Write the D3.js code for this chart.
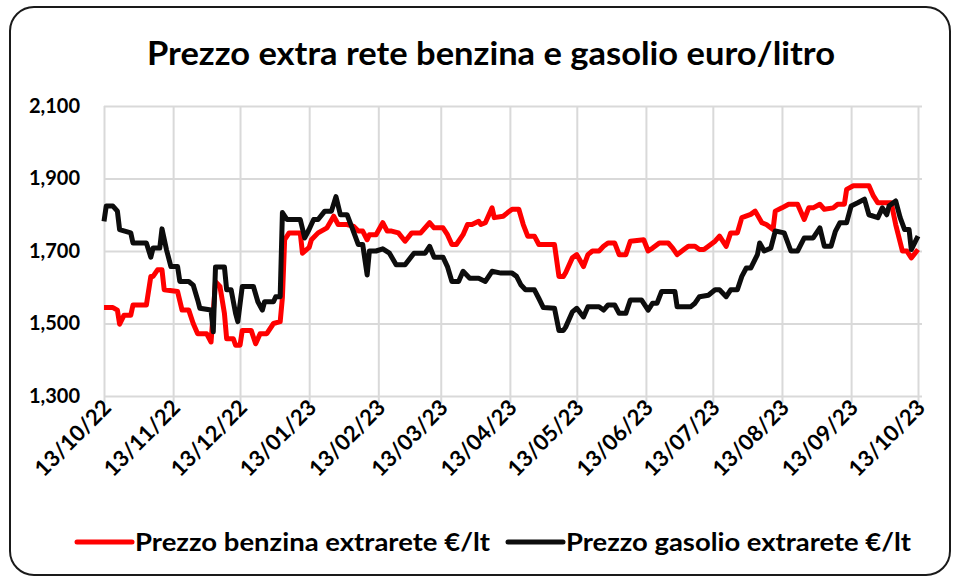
<!DOCTYPE html>
<html>
<head>
<meta charset="utf-8">
<script src="https://cdn.jsdelivr.net/npm/d3@7"></script>
<style>
    body { margin: 0; background: #fff; }
    text { font-family: Lato, "Open Sans", sans-serif; font-weight: bold; fill: #000; }
</style>
</head>
<body>
<div id="chart"></div>
<script>
// Prezzo benzina extrarete €/lt (date, value)
const benzina = [
    ["2022-10-13", 1.544], ["2022-10-17", 1.544], ["2022-10-19", 1.537], ["2022-10-20", 1.498],
    ["2022-10-22", 1.523], ["2022-10-25", 1.523], ["2022-10-26", 1.551], ["2022-11-01", 1.551],
    ["2022-11-03", 1.630], ["2022-11-04", 1.630], ["2022-11-06", 1.648], ["2022-11-08", 1.648],
    ["2022-11-09", 1.593], ["2022-11-15", 1.588], ["2022-11-17", 1.537], ["2022-11-20", 1.537],
    ["2022-11-22", 1.500], ["2022-11-24", 1.472], ["2022-11-28", 1.472], ["2022-11-30", 1.449],
    ["2022-12-02", 1.615], ["2022-12-04", 1.602], ["2022-12-06", 1.528], ["2022-12-07", 1.458],
    ["2022-12-10", 1.458], ["2022-12-11", 1.440], ["2022-12-13", 1.440], ["2022-12-14", 1.481],
    ["2022-12-18", 1.481], ["2022-12-20", 1.444], ["2022-12-22", 1.472], ["2022-12-25", 1.472],
    ["2022-12-28", 1.500], ["2022-12-31", 1.505], ["2023-01-01", 1.572], ["2023-01-02", 1.731],
    ["2023-01-04", 1.750], ["2023-01-09", 1.750], ["2023-01-10", 1.694], ["2023-01-13", 1.710],
    ["2023-01-14", 1.731], ["2023-01-17", 1.750], ["2023-01-21", 1.764], ["2023-01-24", 1.796],
    ["2023-01-26", 1.773], ["2023-01-30", 1.773], ["2023-02-02", 1.768], ["2023-02-04", 1.755],
    ["2023-02-06", 1.755], ["2023-02-08", 1.731], ["2023-02-09", 1.745], ["2023-02-12", 1.745],
    ["2023-02-15", 1.778], ["2023-02-17", 1.755], ["2023-02-19", 1.755], ["2023-02-22", 1.750],
    ["2023-02-25", 1.727], ["2023-02-28", 1.750], ["2023-03-04", 1.750], ["2023-03-08", 1.778],
    ["2023-03-10", 1.764], ["2023-03-14", 1.764], ["2023-03-16", 1.745], ["2023-03-18", 1.718],
    ["2023-03-20", 1.718], ["2023-03-23", 1.745], ["2023-03-25", 1.773], ["2023-03-27", 1.773],
    ["2023-03-30", 1.782], ["2023-03-31", 1.773], ["2023-04-02", 1.778], ["2023-04-05", 1.819],
    ["2023-04-06", 1.792], ["2023-04-10", 1.796], ["2023-04-12", 1.806], ["2023-04-14", 1.815],
    ["2023-04-17", 1.815], ["2023-04-19", 1.773], ["2023-04-21", 1.741], ["2023-04-24", 1.741],
    ["2023-04-26", 1.718], ["2023-05-03", 1.718], ["2023-05-05", 1.630], ["2023-05-07", 1.630],
    ["2023-05-08", 1.640], ["2023-05-11", 1.681], ["2023-05-13", 1.690], ["2023-05-16", 1.657],
    ["2023-05-18", 1.690], ["2023-05-20", 1.700], ["2023-05-23", 1.700], ["2023-05-25", 1.713],
    ["2023-05-27", 1.722], ["2023-05-30", 1.722], ["2023-06-01", 1.690], ["2023-06-04", 1.690],
    ["2023-06-06", 1.727], ["2023-06-12", 1.731], ["2023-06-14", 1.700], ["2023-06-16", 1.708],
    ["2023-06-19", 1.722], ["2023-06-23", 1.722], ["2023-06-25", 1.708], ["2023-06-27", 1.690],
    ["2023-06-30", 1.704], ["2023-07-02", 1.713], ["2023-07-05", 1.713], ["2023-07-07", 1.704],
    ["2023-07-09", 1.704], ["2023-07-11", 1.713], ["2023-07-14", 1.727], ["2023-07-16", 1.741],
    ["2023-07-19", 1.713], ["2023-07-21", 1.750], ["2023-07-24", 1.750], ["2023-07-26", 1.792],
    ["2023-07-30", 1.801], ["2023-08-01", 1.810], ["2023-08-04", 1.778], ["2023-08-06", 1.773],
    ["2023-08-09", 1.759], ["2023-08-10", 1.810], ["2023-08-13", 1.819], ["2023-08-16", 1.829],
    ["2023-08-20", 1.829], ["2023-08-23", 1.787], ["2023-08-25", 1.819], ["2023-08-27", 1.819],
    ["2023-08-30", 1.829], ["2023-09-01", 1.815], ["2023-09-05", 1.819], ["2023-09-07", 1.829],
    ["2023-09-10", 1.829], ["2023-09-11", 1.870], ["2023-09-14", 1.880], ["2023-09-21", 1.880],
    ["2023-09-23", 1.852], ["2023-09-25", 1.833], ["2023-10-01", 1.833], ["2023-10-03", 1.773],
    ["2023-10-06", 1.700], ["2023-10-08", 1.700], ["2023-10-10", 1.681], ["2023-10-13", 1.704]
];

// Prezzo gasolio extrarete €/lt (date, value)
const gasolio = [
    ["2022-10-13", 1.782], ["2022-10-14", 1.824], ["2022-10-17", 1.824], ["2022-10-19", 1.810],
    ["2022-10-20", 1.759], ["2022-10-25", 1.750], ["2022-10-26", 1.722], ["2022-11-01", 1.722],
    ["2022-11-03", 1.683], ["2022-11-04", 1.708], ["2022-11-07", 1.708], ["2022-11-08", 1.761],
    ["2022-11-10", 1.704], ["2022-11-12", 1.657], ["2022-11-15", 1.657], ["2022-11-16", 1.616],
    ["2022-11-20", 1.616], ["2022-11-22", 1.606], ["2022-11-24", 1.565], ["2022-11-25", 1.542],
    ["2022-11-30", 1.537], ["2022-12-01", 1.477], ["2022-12-02", 1.656], ["2022-12-06", 1.656],
    ["2022-12-07", 1.593], ["2022-12-09", 1.593], ["2022-12-11", 1.528], ["2022-12-12", 1.505],
    ["2022-12-14", 1.602], ["2022-12-19", 1.602], ["2022-12-21", 1.560], ["2022-12-23", 1.537],
    ["2022-12-24", 1.560], ["2022-12-28", 1.560], ["2022-12-29", 1.574], ["2022-12-31", 1.574],
    ["2023-01-01", 1.806], ["2023-01-03", 1.787], ["2023-01-09", 1.787], ["2023-01-11", 1.736],
    ["2023-01-13", 1.760], ["2023-01-15", 1.787], ["2023-01-17", 1.787], ["2023-01-20", 1.810],
    ["2023-01-23", 1.810], ["2023-01-25", 1.850], ["2023-01-27", 1.800], ["2023-01-30", 1.800],
    ["2023-02-01", 1.768], ["2023-02-04", 1.718], ["2023-02-06", 1.718], ["2023-02-08", 1.634],
    ["2023-02-09", 1.700], ["2023-02-12", 1.700], ["2023-02-15", 1.706], ["2023-02-18", 1.694],
    ["2023-02-21", 1.662], ["2023-02-25", 1.662], ["2023-03-01", 1.694], ["2023-03-06", 1.694],
    ["2023-03-08", 1.713], ["2023-03-10", 1.683], ["2023-03-14", 1.683], ["2023-03-16", 1.657],
    ["2023-03-18", 1.616], ["2023-03-21", 1.616], ["2023-03-23", 1.644], ["2023-03-26", 1.625],
    ["2023-03-30", 1.625], ["2023-04-02", 1.616], ["2023-04-05", 1.644], ["2023-04-09", 1.639],
    ["2023-04-14", 1.639], ["2023-04-16", 1.630], ["2023-04-18", 1.606], ["2023-04-20", 1.593],
    ["2023-04-24", 1.593], ["2023-04-26", 1.569], ["2023-04-28", 1.544], ["2023-05-03", 1.542],
    ["2023-05-05", 1.481], ["2023-05-07", 1.481], ["2023-05-08", 1.490], ["2023-05-11", 1.532],
    ["2023-05-13", 1.542], ["2023-05-16", 1.518], ["2023-05-18", 1.546], ["2023-05-23", 1.546],
    ["2023-05-25", 1.537], ["2023-05-27", 1.551], ["2023-05-30", 1.551], ["2023-06-01", 1.528],
    ["2023-06-04", 1.528], ["2023-06-06", 1.565], ["2023-06-11", 1.565], ["2023-06-14", 1.537],
    ["2023-06-16", 1.556], ["2023-06-18", 1.556], ["2023-06-20", 1.588], ["2023-06-26", 1.588],
    ["2023-06-27", 1.546], ["2023-07-03", 1.546], ["2023-07-05", 1.556], ["2023-07-07", 1.574],
    ["2023-07-11", 1.578], ["2023-07-14", 1.593], ["2023-07-16", 1.593], ["2023-07-19", 1.574],
    ["2023-07-21", 1.593], ["2023-07-24", 1.593], ["2023-07-26", 1.630], ["2023-07-28", 1.653],
    ["2023-07-30", 1.653], ["2023-08-02", 1.690], ["2023-08-03", 1.722], ["2023-08-05", 1.700],
    ["2023-08-08", 1.708], ["2023-08-10", 1.755], ["2023-08-14", 1.750], ["2023-08-17", 1.700],
    ["2023-08-20", 1.700], ["2023-08-23", 1.736], ["2023-08-27", 1.736], ["2023-08-30", 1.764],
    ["2023-09-01", 1.713], ["2023-09-04", 1.713], ["2023-09-06", 1.755], ["2023-09-08", 1.778],
    ["2023-09-11", 1.778], ["2023-09-13", 1.824], ["2023-09-16", 1.833], ["2023-09-19", 1.843],
    ["2023-09-21", 1.800], ["2023-09-25", 1.792], ["2023-09-27", 1.819], ["2023-09-29", 1.800],
    ["2023-09-30", 1.824], ["2023-10-03", 1.838], ["2023-10-05", 1.792], ["2023-10-07", 1.759],
    ["2023-10-09", 1.759], ["2023-10-10", 1.704], ["2023-10-13", 1.741]
];

const xTicks = ["2022-10-13", "2022-11-13", "2022-12-13", "2023-01-13", "2023-02-13", "2023-03-13",
    "2023-04-13", "2023-05-13", "2023-06-13", "2023-07-13", "2023-08-13", "2023-09-13", "2023-10-13"];
const yTicks = [1.3, 1.5, 1.7, 1.9, 2.1];

const title = "Prezzo extra rete benzina e gasolio euro/litro";
const seriesNames = ["Prezzo benzina extrarete €/lt", "Prezzo gasolio extrarete €/lt"];
const seriesColors = ["#ff0000", "#0d0d0d"];

const W = 957, H = 581;
const margin = {top: 106, right: 39, bottom: 185, left: 104};
const width = W - margin.left - margin.right;
const height = H - margin.top - margin.bottom;

const parse = d3.timeParse("%Y-%m-%d");
const it = d3.formatLocale({decimal: ",", thousands: ".", grouping: [3], currency: ["€", ""]});

const svg = d3.select("#chart").append("svg")
    .attr("width", W)
    .attr("height", H);

// outer frame
svg.append("rect")
    .attr("x", 10).attr("y", 7)
    .attr("width", 940).attr("height", 568)
    .attr("rx", 24).attr("ry", 24)
    .attr("fill", "#fff")
    .attr("stroke", "#1a1a1a")
    .attr("stroke-width", 2);

svg.append("text")
    .attr("x", 491).attr("y", 65)
    .attr("text-anchor", "middle")
    .attr("font-size", 32)
    .attr("textLength", 688)
    .attr("lengthAdjust", "spacingAndGlyphs")
    .text(title);

const g = svg.append("g")
    .attr("transform", "translate(" + margin.left + "," + margin.top + ")");

const xSc = d3.scaleTime()
    .domain([parse(xTicks[0]), parse(xTicks[xTicks.length - 1])])
    .range([0, width]);
const ySc = d3.scaleLinear().domain([1.3, 2.1]).range([height, 0]);

// horizontal grid
g.append("g")
    .attr("class", "ygrid")
    .call(d3.axisLeft(ySc).tickValues(yTicks).tickSize(-width - 4).tickFormat(""))
    .call(s => s.select(".domain").remove())
    .selectAll("line")
    .attr("stroke", "#d9d9d9")
    .attr("stroke-width", 2);

// vertical grid + ticks below the axis
g.append("g")
    .attr("class", "xgrid")
    .attr("transform", "translate(0," + (height + 7) + ")")
    .call(d3.axisBottom(xSc).tickValues(xTicks.map(parse)).tickSize(-height - 7).tickFormat(""))
    .call(s => s.select(".domain").remove())
    .selectAll("line")
    .attr("stroke", "#d9d9d9")
    .attr("stroke-width", 2);

// y labels
const yAxis = g.append("g")
    .call(d3.axisLeft(ySc).tickValues(yTicks).tickSize(0).tickPadding(24).tickFormat(it.format(".3f")));
yAxis.select(".domain").remove();
yAxis.selectAll("text")
    .attr("font-size", 20)
    .style("font-family", "Lato, sans-serif");

// x labels
const xAxis = g.append("g")
    .attr("transform", "translate(0," + height + ")")
    .call(d3.axisBottom(xSc).tickValues(xTicks.map(parse)).tickSize(0).tickFormat(d3.timeFormat("%d/%m/%y")));
xAxis.select(".domain").remove();
xAxis.selectAll("text")
    .attr("font-size", 22)
    .style("font-family", "Lato, sans-serif")
    .attr("text-anchor", "end")
    .attr("x", 0).attr("y", 0).attr("dy", 0)
    .attr("transform", "translate(8,13) rotate(-45)");

const line = d3.line()
    .x(d => xSc(parse(d[0])))
    .y(d => ySc(d[1]));

[benzina, gasolio].forEach((s, i) => {
    g.append("path")
        .datum(s)
        .attr("fill", "none")
        .attr("stroke", seriesColors[i])
        .attr("stroke-width", 5)
        .attr("stroke-linejoin", "round")
        .attr("d", line);
});

// legend
const legendPos = [{x: 77, w: 355}, {x: 508, w: 345}];
seriesNames.forEach((name, i) => {
    const lg = svg.append("g").attr("transform", "translate(" + legendPos[i].x + ",542)");
    lg.append("line")
        .attr("x1", 0).attr("x2", 55)
        .attr("stroke", seriesColors[i])
        .attr("stroke-width", 5)
        .attr("stroke-linecap", "round");
    lg.append("text")
        .attr("x", 58).attr("y", 9)
        .attr("font-size", 25)
        .attr("textLength", legendPos[i].w)
        .attr("lengthAdjust", "spacingAndGlyphs")
        .text(name);
});
</script>
</body>
</html>
